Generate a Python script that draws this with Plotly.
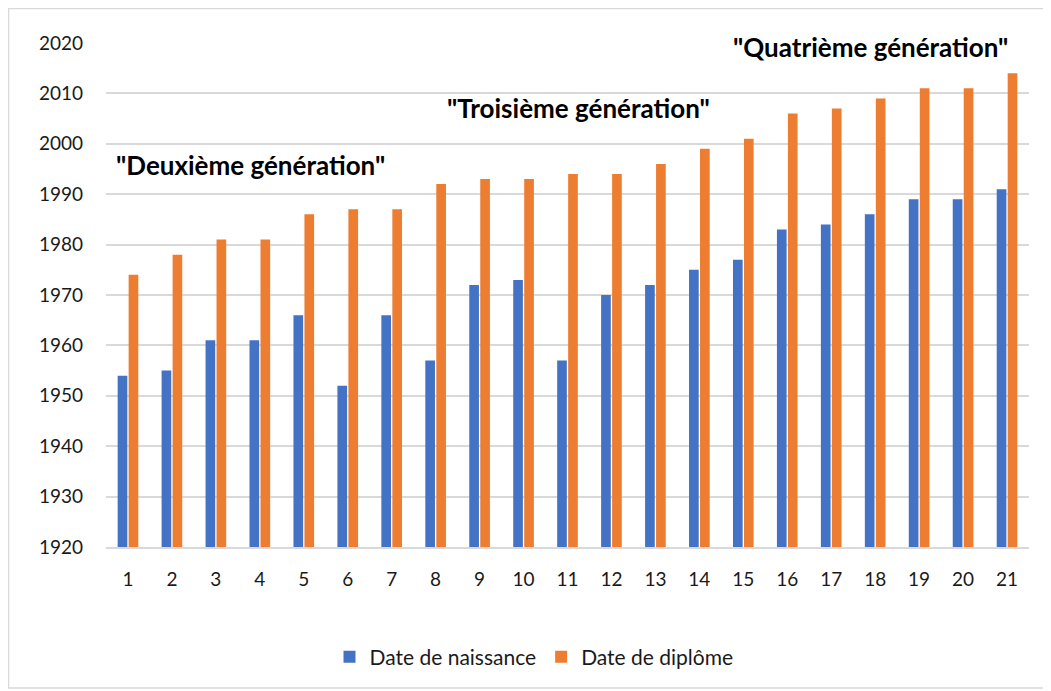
import plotly.graph_objects as go

categories = [str(i) for i in range(1, 22)]
naissance = [1954, 1955, 1961, 1961, 1966, 1952, 1966, 1957, 1972, 1973, 1957,
             1970, 1972, 1975, 1977, 1983, 1984, 1986, 1989, 1989, 1991]
diplome = [1974, 1978, 1981, 1981, 1986, 1987, 1987, 1992, 1993, 1993, 1994,
           1994, 1996, 1999, 2001, 2006, 2007, 2009, 2011, 2011, 2014]
y_ticks = list(range(1920, 2021, 10))
gen_labels = ['"Deuxième génération"', '"Troisième génération"', '"Quatrième génération"']

FONT = "Lato, 'Open Sans', sans-serif"

fig = go.Figure()
fig.add_trace(go.Bar(x=categories, y=[v - 1920 for v in naissance], base=1920,
                     name="Date de naissance", marker_color="#4472C4",
                     marker_line_width=0))
fig.add_trace(go.Bar(x=categories, y=[v - 1920 for v in diplome], base=1920,
                     name="Date de diplôme", marker_color="#ED7D31",
                     marker_line_width=0))

# page has an 8px body margin: figure origin sits at page (8, 8)
OFF = 8
W, H = 1051 - OFF, 691 - OFF
PL, PR, PT, PB = 106, 1029, 43, 547  # plot area in page coords
L, T = PL - OFF, PT - OFF
R, B = (W + OFF) - PR, (H + OFF) - PB
pw, ph = PR - PL, PB - PT

def px(x):
    return (x - PL) / pw

def py(y):
    return (PB - y) / ph

ann_pos = [(250.5, 165), (578.5, 108), (870.5, 47)]
annotations = []
for txt, (ax, ay) in zip(gen_labels, ann_pos):
    annotations.append(dict(text=f"<b>{txt}</b>", x=px(ax), y=py(ay), xref="paper", yref="paper",
                            xanchor="center", yanchor="middle", showarrow=False,
                            font=dict(size=26, color="#000000", family=FONT)))

fig.update_layout(
    width=W, height=H,
    margin=dict(l=L, r=R, t=T, b=B),
    paper_bgcolor="white", plot_bgcolor="white",
    barmode="group", bargap=0.5, bargroupgap=0.12,
    font=dict(family=FONT, size=19, color="#1a1a1a"),
    showlegend=True,
    legend=dict(orientation="h", x=px(534), xanchor="center", y=py(657), yanchor="middle",
                font=dict(size=21, color="#1a1a1a"), itemwidth=30, traceorder="normal"),
    annotations=annotations,
    shapes=[dict(type="rect", xref="paper", yref="paper",
                 x0=px(8.5), x1=px(1048), y0=py(688), y1=py(8.5),
                 line=dict(color="#d9d9d9", width=1.5), fillcolor="rgba(0,0,0,0)", layer="below")],
)
fig.update_xaxes(type="category", showgrid=False, showline=True, linecolor="#d9d9d9",
                 linewidth=1.5, ticks="", tickfont=dict(size=19, color="#1a1a1a"),
                 ticklabelstandoff=14)
fig.update_yaxes(range=[1920, 2020], tickvals=y_ticks, showgrid=True, gridcolor="#d9d9d9",
                 gridwidth=1.5, zeroline=False, showline=False, ticks="",
                 tickfont=dict(size=19, color="#1a1a1a"), ticklabelstandoff=22)

fig.write_html("out.html")
